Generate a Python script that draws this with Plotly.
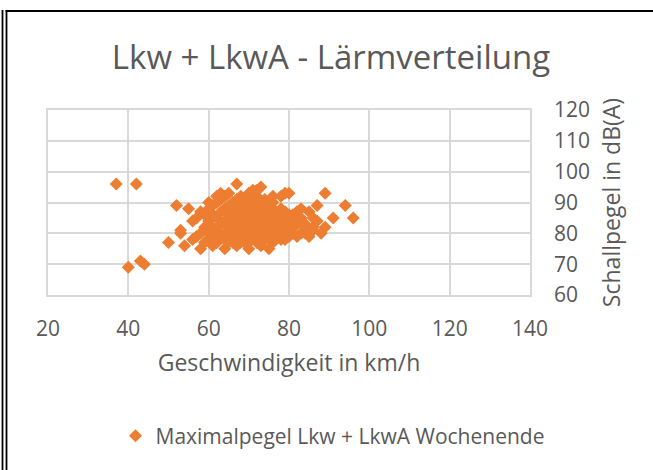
import plotly.graph_objects as go

title_text = "Lkw + LkwA - Lärmverteilung"
x_title = "Geschwindigkeit in km/h"
y_title = "Schallpegel in dB(A)"
series_name = "Maximalpegel Lkw + LkwA Wochenende"

speed = [
    37, 42, 40, 43, 44,
    52, 55, 58, 56, 53, 50, 54, 56, 59, 57, 53, 60,
    63, 67, 71, 72, 73, 78, 80, 79, 89, 87, 94, 96, 91, 89, 86, 85, 83, 80, 85, 82, 81, 76, 82, 80, 77,
    58, 61, 64, 67, 70, 73, 75, 62, 66, 69, 72, 74, 78, 80, 84, 86, 88,
    60, 60, 60, 60,
    61, 61, 61, 61,
    62, 62, 62, 62,
    63, 63, 63, 63,
    64, 64, 64, 64, 64,
    65, 65, 65, 65,
    66, 66, 66, 66, 66, 66,
    67, 67, 67, 67, 67,
    68, 68, 68, 68, 68,
    69, 69, 69, 69, 69, 69,
    70, 70, 70, 70, 70,
    71, 71, 71, 71,
    72, 72, 72, 72, 72, 72,
    73, 73, 73, 73,
    74, 74, 74, 74,
    75, 75, 75, 75, 75,
    76, 76, 76, 76,
    77, 77, 77,
    78, 78, 78, 78,
    79, 79, 79,
    80, 80,
    81, 81,
    57, 59, 58, 59, 62, 65, 68, 70, 74, 76, 72, 75, 83, 84, 86, 87,
    82, 83, 84, 81, 79, 83,
]
level = [
    96, 96, 69, 71, 70,
    89, 88, 87, 84, 80, 77, 76, 78, 82, 79, 81, 90,
    93, 96, 94, 94, 95, 92, 93, 93, 93, 89, 89, 85, 85, 82, 82, 79, 80, 86, 87, 87, 86, 77, 79, 81, 81,
    75, 76, 75, 76, 75, 76, 75, 77, 77, 77, 77, 78, 78, 79, 80, 81, 80,
    80, 84, 88, 78,
    82, 86, 89, 79,
    77, 81, 85, 90,
    79, 83, 87, 91,
    78, 80, 84, 88, 92,
    77, 82, 86, 89,
    79, 81, 83, 85, 87, 90,
    78, 80, 84, 88, 91,
    77, 79, 82, 86, 89,
    78, 81, 83, 85, 87, 90,
    77, 80, 84, 88, 91,
    79, 82, 86, 89,
    78, 81, 83, 85, 87, 90,
    77, 80, 84, 88,
    79, 82, 86, 89,
    78, 81, 83, 85, 87,
    80, 84, 88, 90,
    79, 82, 86,
    80, 83, 85, 88,
    82, 84, 87,
    83, 85,
    82, 84,
    85, 86, 80, 77, 92, 93, 92, 93, 91, 92, 92, 90, 84, 83, 85, 84,
    83, 85, 82, 80, 78, 88,
]

x_ticks = [20, 40, 60, 80, 100, 120, 140]
y_ticks = [60, 70, 80, 90, 100, 110, 120]

TEXT = "#595959"
GRID = "#d9d9d9"
ORANGE = "#ED7D31"
FONT = "Open Sans"

fig = go.Figure()
fig.add_trace(go.Scatter(
    x=speed, y=level, mode="markers", name=series_name,
    marker=dict(symbol="diamond", size=10, color=ORANGE, line=dict(width=0)),
    showlegend=True,
))

# plot area in px: x 48..530, y 110..295
L, R, T, B = 48, 530, 110, 295
W, H = 653, 470

def px_x(p):
    return (p - L) / (R - L)

def px_y(p):
    return (B - p) / (B - T)

shapes = [
    dict(type="line", xref="paper", yref="paper", x0=px_x(2.5), x1=px_x(2.5), y0=px_y(10), y1=px_y(480),
         line=dict(color="black", width=1.8)),
    dict(type="line", xref="paper", yref="paper", x0=px_x(6.5), x1=px_x(6.5), y0=px_y(10), y1=px_y(480),
         line=dict(color="black", width=1.8)),
    dict(type="line", xref="paper", yref="paper", x0=px_x(5.6), x1=px_x(670), y0=px_y(11), y1=px_y(11),
         line=dict(color="black", width=2)),
]

fig.update_layout(
    width=W, height=H,
    margin=dict(l=L, r=W - R, t=T, b=H - B, autoexpand=False),
    paper_bgcolor="white", plot_bgcolor="white",
    font=dict(family=FONT, color=TEXT, size=21),
    title=dict(text=title_text, x=331 / W, xanchor="center", xref="container",
               y=1 - 57 / H, yanchor="middle", yref="container",
               font=dict(family=FONT, size=33, color=TEXT)),
    xaxis=dict(range=[20, 140], tickvals=x_ticks, ticktext=[str(v) for v in x_ticks],
               showgrid=True, gridcolor=GRID, gridwidth=1.5,
               showline=True, linecolor=GRID, linewidth=1.5, mirror=True,
               zeroline=False, ticks="", ticklabelstandoff=14,
               tickfont=dict(size=21, color=TEXT, family=FONT),
               title=dict(text=x_title, standoff=14, font=dict(size=23, color=TEXT, family=FONT)),
               automargin=False, fixedrange=True),
    yaxis=dict(range=[60, 120], tickvals=y_ticks, ticktext=[str(v) for v in y_ticks],
               side="right",
               showgrid=True, gridcolor=GRID, gridwidth=1.5,
               showline=True, linecolor=GRID, linewidth=1.5, mirror=True,
               zeroline=False, ticks="", ticklabelstandoff=18,
               tickfont=dict(size=21, color=TEXT, family=FONT),
               title=dict(text=y_title, standoff=15, font=dict(size=23, color=TEXT, family=FONT)),
               automargin=False, fixedrange=True),
    legend=dict(orientation="h", x=0.5 + 6 / W, xanchor="center", xref="container",
                y=1 - 436 / H, yanchor="middle", yref="container",
                font=dict(size=21, color=TEXT, family=FONT), bgcolor="rgba(0,0,0,0)"),
    shapes=shapes,
)

fig.write_html("out.html", config={"displayModeBar": False},
               post_script="document.body.style.margin='0';document.body.style.padding='0';")
